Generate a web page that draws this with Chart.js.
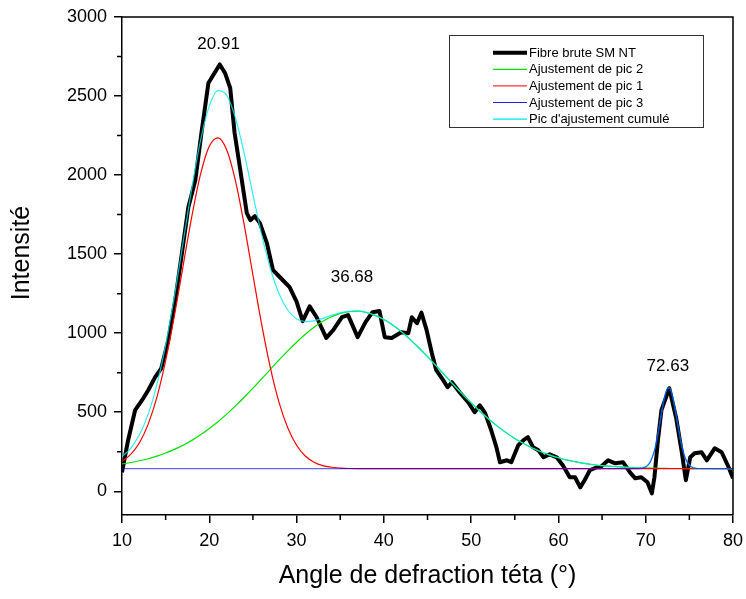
<!DOCTYPE html>
<html lang="fr">
<head>
<meta charset="UTF-8">
<title>Fibre brute SM NT</title>
<script src="https://cdn.jsdelivr.net/npm/chart.js@4.4.0/dist/chart.umd.min.js"></script>
<style>
  html, body { margin: 0; padding: 0; background: #fff; }
  #wrap { width: 746px; height: 599px; }
</style>
</head>
<body>
<div id="wrap"><canvas id="chart" width="746" height="599"></canvas></div>
<script>
// --- measured raw pattern (black) ---
const rawX = [10.0,10.7,11.5,12.3,13.0,13.8,14.5,15.3,16.1,16.8,17.6,18.4,19.1,19.9,20.6,21.2,21.8,22.4,22.9,23.5,
  24.3,24.7,25.2,25.8,26.6,27.3,28.1,29.2,30.0,30.7,31.5,32.3,33.4,34.2,35.2,35.9,37.0,37.9,38.7,39.5,
  40.1,40.9,42.0,42.8,43.2,43.8,44.3,44.9,45.5,46.0,46.8,47.3,47.8,48.7,49.7,50.4,51.0,51.6,52.3,52.9,
  53.3,54.1,54.6,55.4,56.0,56.5,57.1,57.7,58.3,59.0,59.8,60.5,61.3,61.9,62.5,63.0,63.6,64.4,64.8,65.7,
  66.5,67.4,68.2,68.8,69.5,70.2,70.7,71.0,71.4,71.8,72.7,73.5,74.1,74.6,75.1,75.6,76.4,77.0,77.9,78.7,
  79.5,80.0];
const rawY = [120,323,513,576,639,722,778,956,1209,1481,1797,1968,2266,2582,2646,2700,2646,2550,2266,2051,
  1759,1715,1740,1696,1570,1399,1354,1291,1200,1076,1170,1101,970,1019,1101,1114,975,1070,1133,1140,
  975,970,1006,1000,1101,1063,1130,1019,873,766,703,658,690,625,560,500,544,494,386,278,
  184,196,184,291,323,342,278,259,215,234,215,165,89,89,25,70,133,152,152,196,
  177,184,120,82,89,57,-13,89,323,513,652,460,259,70,215,240,247,196,272,247,
  152,82];

// --- peak fits ---
const pic1X = [10,11,12,13,14,15,16,17,18,19,20,21,22,23,24,25,26,27,28,29,30,31,32,33,34,35,36,37,80];
const pic1Y = [189,233,307,425,596,827,1110,1426,1739,2006,2182,2236,2159,1964,1685,1368,1056,781,561,400,
  291,223,184,162,152,147,144,143,143];

const pic2X = [10,11,12,13,14,15,16,17,18,19,20,21,22,23,24,25,26,27,28,29,30,31,32,33,34,35,36,37,38,39,
  40,41,42,43,44,45,46,47,48,49,50,51,52,53,54,55,56,57,58,59,60,61,62,63,64,65,66,67,68,69,
  70,71,72,73,74,75,76,77,78,79,80];
const pic2Y = [173,182,193,206,222,242,265,291,322,357,397,440,488,540,595,652,711,771,831,888,
  943,993,1037,1075,1104,1125,1137,1139,1131,1113,1086,1052,1010,961,908,852,793,733,673,615,
  559,506,457,412,371,334,302,274,250,229,212,197,186,176,168,162,158,154,151,149,
  147,146,145,144,144,143,143,143,143,143,143];

const pic3X = [10,69,69.5,70,70.5,71,71.25,71.5,71.75,72,72.25,72.5,72.75,73,73.25,73.5,73.75,74,74.5,75,75.5,76,80];
const pic3Y = [143,143,145,153,182,257,317,391,473,551,614,649,650,616,554,476,394,320,214,164,148,144,143];

const cumX = [10,11,12,13,14,15,16,17,18,19,20,21,22,23,24,25,26,27,28,29,30,31,32,33,34,35,36,37,38,39,
  40,41,42,43,44,45,46,47,48,49,50,51,52,53,54,55,56,57,58,59,60,61,62,63,64,65,66,67,68,
  69,69.5,70,70.5,71,71.25,71.5,71.75,72,72.25,72.5,72.75,73,73.25,73.5,73.75,74,74.5,75,75.5,76,80];
const cumY = [219,272,357,488,675,926,1232,1574,1918,2220,2436,2534,2504,2361,2137,1877,1624,1409,1249,1145,
  1091,1073,1078,1094,1113,1129,1138,1139,1131,1113,1086,1052,1010,961,908,852,793,733,673,615,
  559,506,457,412,371,334,302,274,250,229,212,197,186,176,168,162,158,154,151,
  149,150,157,186,260,320,394,475,553,616,651,652,617,555,477,395,321,215,165,148,144,143];

// --- axes ---
const xTicks = [10,20,30,40,50,60,70,80];
const xMinor = [15,25,35,45,55,65,75];
const yTicks = [0,500,1000,1500,2000,2500,3000];
const yMinor = [250,750,1250,1750,2250,2750];

// --- peak annotations ---
const peakText = ['20.91','36.68','72.63'];
const peakLabelX = [21.07, 36.35, 72.54];
const peakLabelY = [2800, 1325, 758];

const pts = (xs, ys) => xs.map((v, i) => ({x: v, y: ys[i]}));

Chart.defaults.font.family = "'Liberation Sans', Arial, sans-serif";
Chart.defaults.color = '#000';

const framePlugin = {
  id: 'frame',
  afterDraw(chart) {
    const {ctx, chartArea: a, scales: {x, y}} = chart;
    ctx.save();
    ctx.strokeStyle = '#000';
    ctx.lineWidth = 1.5;
    ctx.beginPath();
    ctx.moveTo(a.left, a.top);
    ctx.lineTo(a.right, a.top);
    ctx.lineTo(a.right, a.bottom);
    xMinor.forEach(v => {
      const px = x.getPixelForValue(v);
      ctx.moveTo(px, a.bottom);
      ctx.lineTo(px, a.bottom + 5);
    });
    yMinor.forEach(v => {
      const py = y.getPixelForValue(v);
      ctx.moveTo(a.left, py);
      ctx.lineTo(a.left - 5, py);
    });
    ctx.stroke();

    // y title (sits a bit above the centre, as in the original)
    ctx.save();
    ctx.translate(22, a.top + 236);
    ctx.rotate(-Math.PI / 2);
    ctx.font = "25px 'Liberation Sans', Arial, sans-serif";
    ctx.fillStyle = '#000';
    ctx.textAlign = 'center';
    ctx.textBaseline = 'middle';
    ctx.fillText('Intensité', 0, 0);
    ctx.restore();

    // peak labels
    ctx.font = "17px 'Liberation Sans', Arial, sans-serif";
    ctx.fillStyle = '#000';
    ctx.textAlign = 'center';
    ctx.textBaseline = 'alphabetic';
    peakText.forEach((t, i) => {
      ctx.fillText(t, x.getPixelForValue(peakLabelX[i]), y.getPixelForValue(peakLabelY[i]));
    });

    // legend box
    const bx = a.right - 284, by = a.top + 18, bw = 254, bh = 92;
    ctx.fillStyle = '#fff';
    ctx.fillRect(bx, by, bw, bh);
    ctx.strokeStyle = '#333';
    ctx.lineWidth = 1;
    ctx.strokeRect(bx + 0.5, by + 0.5, bw, bh);
    ctx.font = "13px 'Liberation Sans', Arial, sans-serif";
    ctx.textAlign = 'left';
    ctx.textBaseline = 'middle';
    chart.data.datasets.forEach((ds, i) => {
      const ry = by + 17.7 + i * 16.6;
      ctx.strokeStyle = ds.legendColor;
      ctx.lineWidth = i === 0 ? 4 : 1.2;
      ctx.beginPath();
      ctx.moveTo(bx + 44, ry);
      ctx.lineTo(bx + 78, ry);
      ctx.stroke();
      ctx.fillStyle = '#000';
      ctx.fillText(ds.label, bx + 80, ry + 0.5);
    });
    ctx.restore();
  }
};

const axisCommon = {
  ticks: {font: {size: 18}, color: '#000', padding: 7, maxRotation: 0, callback: v => String(v)},
  grid: {drawOnChartArea: false, drawTicks: true, tickLength: 8, color: '#000', lineWidth: 1.5},
  border: {color: '#000', width: 1.5}
};

new Chart(document.getElementById('chart'), {
  type: 'line',
  data: {
    datasets: [
      {label: 'Fibre brute SM NT', data: pts(rawX, rawY), borderColor: '#000', legendColor: '#000',
        borderWidth: 4, tension: 0, borderJoinStyle: 'round', order: 5},
      {label: 'Ajustement de pic 2', data: pts(pic2X, pic2Y), borderColor: '#00e000', legendColor: '#00e000',
        borderWidth: 1.2, cubicInterpolationMode: 'monotone', order: 4},
      {label: 'Ajustement de pic 1', data: pts(pic1X, pic1Y), borderColor: '#ff0000', legendColor: '#ff3333',
        borderWidth: 1.2, cubicInterpolationMode: 'monotone', order: 3},
      {label: 'Ajustement de pic 3', data: pts(pic3X, pic3Y), borderColor: 'rgba(0,0,255,0.6)', legendColor: '#2020ff',
        borderWidth: 1.2, cubicInterpolationMode: 'monotone', order: 1},
      {label: "Pic d'ajustement cumulé", data: pts(cumX, cumY), borderColor: 'rgba(0,235,235,0.8)', legendColor: '#00e5e5',
        borderWidth: 1.2, cubicInterpolationMode: 'monotone', order: 2}
    ]
  },
  options: {
    responsive: false,
    animation: false,
    devicePixelRatio: 1,
    layout: {padding: {top: 17, right: 13, left: 0, bottom: 0}, autoPadding: false},
    elements: {point: {radius: 0}},
    plugins: {legend: {display: false}, tooltip: {enabled: false}},
    scales: {
      x: {
        ...axisCommon,
        type: 'linear', min: 10, max: 80,
        afterBuildTicks: s => { s.ticks = xTicks.map(v => ({value: v})); },
        afterFit: s => { s.height = 84; s.paddingLeft = 0; s.paddingRight = 0; },
        title: {display: true, text: 'Angle de defraction téta (°)', color: '#000',
          font: {size: 25}, padding: {top: 0, bottom: 8}}
      },
      y: {
        ...axisCommon,
        type: 'linear', min: -150, max: 3000,
        afterBuildTicks: s => { s.ticks = yTicks.map(v => ({value: v})); },
        afterFit: s => { s.width = 122; s.paddingTop = 0; s.paddingBottom = 0; },
        title: {display: false}
      }
    }
  },
  plugins: [framePlugin]
});
</script>
</body>
</html>
